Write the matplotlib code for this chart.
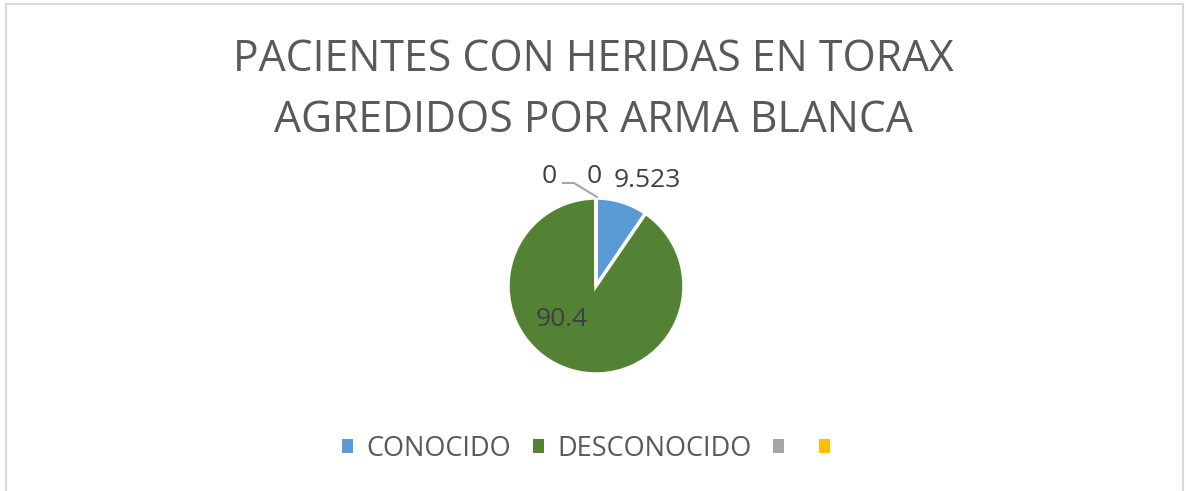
import numpy as np
import matplotlib.pyplot as plt
from matplotlib.lines import Line2D
from matplotlib.patches import Patch

# Datos
categorias = ["CONOCIDO", "DESCONOCIDO", "", ""]
valores = [9.523, 90.4, 0, 0]
etiquetas = ["9.523", "90.4", "0", "0"]
colores = ["#5B9BD5", "#548235", "#A5A5A5", "#FFC000"]

plt.rcParams['font.family'] = ['Open Sans', 'DejaVu Sans']

W, H = 1186, 491
fig = plt.figure(figsize=(W / 100, H / 100), dpi=100)
ax = fig.add_axes([0, 0, 1, 1])

# centro y radio del pastel (pixeles)
cx, cy, r = 596, H - 286, 88
wedges, _ = ax.pie(valores, colors=colores, startangle=90, counterclock=False,
                   center=(cx, cy), radius=r, normalize=True,
                   wedgeprops=dict(edgecolor='white', linewidth=2.5))
ax.set_xlim(0, W)
ax.set_ylim(0, H)
ax.axis('off')

# titulo
tit_kw = dict(ha='center', va='baseline', fontsize=30.8, color='#595959')
fig.text(0.5, (H - 71) / H, "PACIENTES CON HERIDAS EN TORAX", **tit_kw)
fig.text(0.5, (H - 132) / H, "AGREDIDOS POR ARMA BLANCA", **tit_kw)

# etiquetas de datos
lab_kw = dict(ha='center', va='baseline', fontsize=19, color='#404040')
ax.text(647, H - 187, etiquetas[0], **lab_kw)
ax.text(562, H - 326, etiquetas[1], **lab_kw)
ax.text(549, H - 183, etiquetas[2], **lab_kw)
ax.text(594, H - 183, etiquetas[3], **lab_kw)
ax.plot([563, 574, 597], [H - 183, H - 183, H - 197], color='#A6A6A6', lw=1.5)

# leyenda (cuadros sin borde)
handles = [Patch(facecolor=c, edgecolor='none') for c in colores]
fig.legend(handles, categorias, loc='center', bbox_to_anchor=(0.5, (H - 449) / H),
           ncol=4, frameon=False, fontsize=19.5, handlelength=0.4, handleheight=0.4,
           handletextpad=0.5, columnspacing=0.8, labelcolor='#595959')

# borde del grafico
borde = dict(color='#D9D9D9', lw=1.5)
fig.add_artist(Line2D([5.5 / W, 1183 / W], [(H - 4) / H, (H - 4) / H], **borde))
fig.add_artist(Line2D([5.5 / W, 5.5 / W], [0, (H - 4) / H], **borde))
fig.add_artist(Line2D([1183 / W, 1183 / W], [0, (H - 4) / H], **borde))

fig.savefig("out.png", dpi=100)
